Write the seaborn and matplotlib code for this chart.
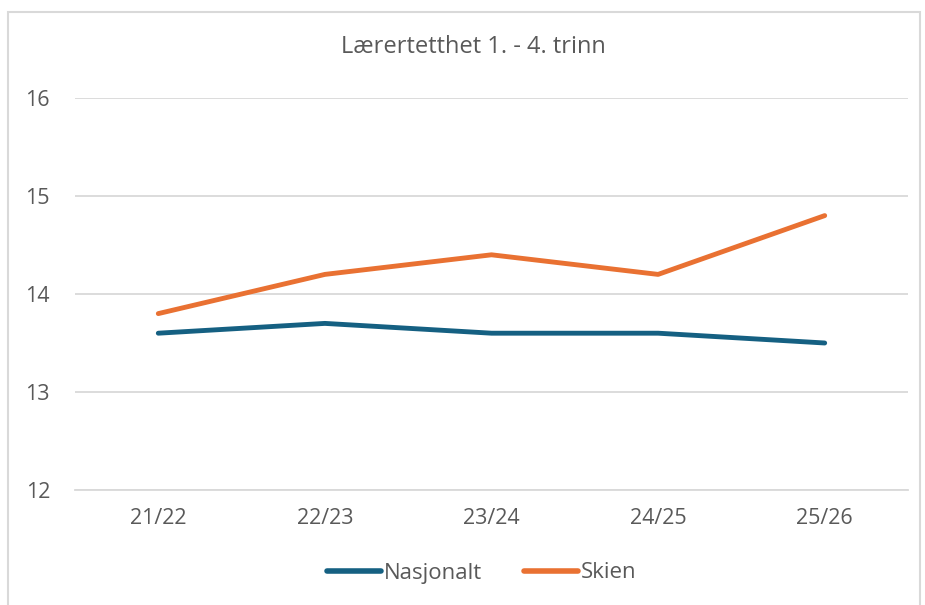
import pandas as pd
import seaborn as sns
import matplotlib.pyplot as plt
from matplotlib.patches import Rectangle

# Data
years = ['21/22', '22/23', '23/24', '24/25', '25/26']
nasjonalt = [13.6, 13.7, 13.6, 13.6, 13.5]
skien = [13.8, 14.2, 14.4, 14.2, 14.8]

df = pd.DataFrame({
    'år': years * 2,
    'verdi': nasjonalt + skien,
    'serie': ['Nasjonalt'] * len(years) + ['Skien'] * len(years),
})

sns.set_style('white')
plt.rcParams['font.family'] = ['Open Sans', 'DejaVu Sans']
text_color = '#595959'

fig = plt.figure(figsize=(9.25, 6.05), dpi=100)
ax = fig.add_axes([75 / 925, 1 - 490 / 605, (908 - 75) / 925, (490 - 98) / 605])

# Chart frame
fig.patches.append(Rectangle((8 / 925, -0.1), (920 - 8) / 925, 1.1 - 12 / 605,
                             transform=fig.transFigure, fill=False,
                             edgecolor='#D9D9D9', linewidth=1.5))

sns.lineplot(data=df, x='år', y='verdi', hue='serie',
             palette={'Nasjonalt': '#156082', 'Skien': '#E97132'},
             linewidth=3.5, ax=ax, legend=False, sort=False)
for line in ax.lines:
    line.set_solid_capstyle('round')
    line.set_solid_joinstyle('round')

ax.set_ylim(12, 16)
ax.set_xlim(-0.5, len(years) - 0.5)
ax.set_yticks([12, 13, 14, 15, 16])
ax.yaxis.grid(True, color='#D9D9D9', linewidth=1.3)
ax.set_axisbelow(True)
for s in ax.spines.values():
    s.set_visible(False)
ax.spines['bottom'].set_visible(True)
ax.spines['bottom'].set_color('#D9D9D9')
ax.spines['bottom'].set_linewidth(1.3)
ax.tick_params(axis='y', length=0, pad=18, labelsize=15.5, labelcolor=text_color)
ax.tick_params(axis='x', length=0, pad=13, labelsize=15.5, labelcolor=text_color)
ax.set_xlabel('')
ax.set_ylabel('')

fig.text(473 / 925, 1 - 47 / 605, 'Lærertetthet 1. - 4. trinn', ha='center',
         va='center', fontsize=17, color=text_color)

handles = [plt.Line2D([], [], color='#156082', linewidth=4, solid_capstyle='round'),
           plt.Line2D([], [], color='#E97132', linewidth=4, solid_capstyle='round')]
fig.legend(handles, ['Nasjonalt', 'Skien'], loc='center', ncol=2,
           bbox_to_anchor=(482 / 925, 1 - 573 / 605), frameon=False,
           fontsize=16, labelcolor=text_color, handlelength=2.4,
           handletextpad=0.15, columnspacing=1.9)

plt.savefig('out.png', dpi=100)
